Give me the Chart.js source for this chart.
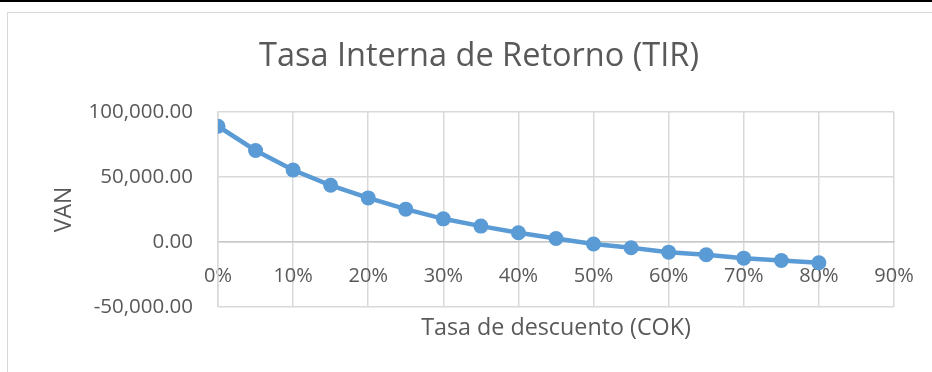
<!DOCTYPE html>
<html>
<head>
<meta charset="utf-8">
<script src="https://cdn.jsdelivr.net/npm/chart.js@4/dist/chart.umd.min.js"></script>
<style>
  html, body { margin: 0; padding: 0; background: #fff; overflow: hidden; width: 932px; height: 372px; }
  #topband { position: absolute; left: 0; top: 0; width: 932px; height: 2px; background: #000; }
  #frame { position: absolute; left: 7px; top: 12px; width: 980px; height: 400px;
           border-left: 1.5px solid #d9d9d9; border-top: 1.5px solid #d9d9d9; }
  #wrap { position: absolute; left: 8px; top: 13px; width: 942px; height: 358px; }
</style>
</head>
<body>
<div id="topband"></div>
<div id="frame"></div>
<div id="wrap"><canvas id="tir"></canvas></div>
<script>
// Discount rates (COK) and the resulting net present value (VAN)
const rates = [0, 0.05, 0.10, 0.15, 0.20, 0.25, 0.30, 0.35, 0.40, 0.45, 0.50, 0.55, 0.60, 0.65, 0.70, 0.75, 0.80];
const van = [89050, 70440, 55360, 43640, 33920, 25270, 17840, 12250, 7120, 2760, -1530, -4440, -7800, -9800, -12400, -14200, -15900];

// Axis ranges and tick steps
const rateRange = [0, 0.9];
const rateStep = 0.1;
const vanRange = [-50000, 100000];
const vanStep = 50000;

// Text
const chartTitle = 'Tasa Interna de Retorno (TIR)';
const xTitle = 'Tasa de descuento (COK)';
const yTitle = 'VAN';

const FONT = "'Open Sans', 'Liberation Sans', sans-serif";
const TEXT = '#595959';
const GRID = '#d9d9d9';
const BLUE = '#5b9bd5';

const points = rates.map((r, i) => ({ x: r, y: van[i] }));

new Chart(document.getElementById('tir'), {
  type: 'line',
  data: {
    datasets: [{
      data: points,
      borderColor: BLUE,
      backgroundColor: BLUE,
      borderWidth: 4.5,
      pointRadius: 7.5,
      pointBackgroundColor: BLUE,
      pointBorderColor: BLUE,
      pointBorderWidth: 0,
      tension: 0,
      fill: false,
      xAxisID: 'x',
      yAxisID: 'y'
    }]
  },
  options: {
    responsive: true,
    maintainAspectRatio: false,
    animation: false,
    layout: { padding: { left: 0, right: 0, top: 0, bottom: 25 } },
    plugins: {
      legend: { display: false },
      tooltip: { enabled: false },
      title: {
        display: true,
        text: chartTitle,
        color: TEXT,
        font: { family: FONT, size: 32.5, weight: 'normal', lineHeight: 1.2 },
        padding: { top: 24, bottom: 36 }
      }
    },
    scales: {
      x: {
        type: 'linear',
        position: { y: 0 },
        min: rateRange[0],
        max: rateRange[1],
        grid: { color: GRID, lineWidth: 1.5, drawTicks: false },
        border: { display: true, color: '#c8c8c8', width: 1.5 },
        ticks: {
          stepSize: rateStep,
          autoSkip: false,
          maxRotation: 0,
          padding: 22,
          color: TEXT,
          font: { family: FONT, size: 20 },
          callback: v => Math.round(v * 100) + '%'
        }
      },
      x2: {
        type: 'linear',
        position: 'bottom',
        min: rateRange[0],
        max: rateRange[1],
        grid: { display: false, drawTicks: false },
        border: { display: false },
        ticks: { display: false },
        title: {
          display: true,
          text: xTitle,
          color: TEXT,
          font: { family: FONT, size: 23.3, lineHeight: 1.2 },
          padding: { top: 7, bottom: 4 }
        }
      },
      y: {
        type: 'linear',
        position: 'left',
        min: vanRange[0],
        max: vanRange[1],
        afterFit: s => { s.width = 210; },
        grid: { color: GRID, lineWidth: 1.5, drawTicks: false },
        border: { display: true, color: GRID, width: 1.5 },
        ticks: {
          stepSize: vanStep,
          padding: 25,
          color: TEXT,
          font: { family: FONT, size: 20.5 },
          callback: v => v.toLocaleString('en-US', { minimumFractionDigits: 2, maximumFractionDigits: 2 })
        },
        title: {
          display: true,
          text: yTitle,
          color: TEXT,
          font: { family: FONT, size: 23, lineHeight: 1.2 },
          padding: { top: 43, bottom: 0 }
        }
      },
      // empty right-hand margin so the chart title stays centred on the whole frame
      yRight: {
        type: 'linear',
        position: 'right',
        display: true,
        afterFit: s => { s.width = 56; },
        grid: { display: false, drawTicks: false },
        border: { display: false },
        ticks: { display: false }
      }
    }
  }
});
</script>
</body>
</html>
